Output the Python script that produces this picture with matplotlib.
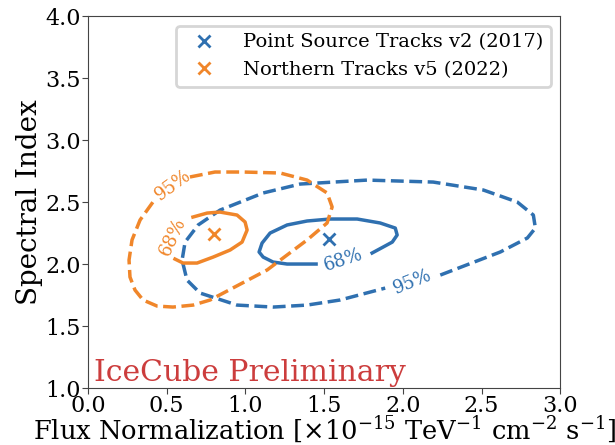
#!/usr/bin/env python3
# contours.py
# best-fit point and 68%/95% contours for the two track samples

import matplotlib
matplotlib.use("Agg")
import matplotlib.pyplot as plt

plt.rcParams['font.family'] = ['DejaVu Serif']
plt.rcParams['mathtext.fontset'] = 'dejavuserif'

# best-fit points (flux norm, spectral index)
ps_best = (1.53, 2.20)
nt_best = (0.80, 2.24)

# Point Source Tracks v2 (2017) contours, traced around, open at the label
ps68_x = [1.805, 1.875, 1.933, 1.964, 1.952, 1.856, 1.710, 1.538, 1.392, 1.265,
          1.157, 1.106, 1.087, 1.113, 1.176, 1.265, 1.348, 1.449]
ps68_y = [2.089, 2.137, 2.177, 2.234, 2.290, 2.331, 2.363, 2.363, 2.347, 2.315,
          2.250, 2.169, 2.097, 2.056, 2.016, 2.000, 2.000, 2.000]
ps95_x = [2.238, 2.619, 2.791, 2.842, 2.829, 2.727, 2.511, 2.193, 1.774, 1.348,
          1.113, 0.839, 0.700, 0.617, 0.598, 0.629, 0.712, 0.947, 1.176, 1.392,
          1.602, 1.888]
ps95_y = [1.911, 2.097, 2.210, 2.290, 2.395, 2.500, 2.597, 2.661, 2.677, 2.645,
          2.573, 2.435, 2.315, 2.177, 2.032, 1.871, 1.766, 1.669, 1.653, 1.669,
          1.710, 1.806]

# Northern Tracks v5 (2022) contours
nt68_x = [0.667, 0.757, 0.839, 0.947, 0.998, 1.011, 0.979, 0.903, 0.795, 0.693,
          0.604, 0.553]
nt68_y = [2.379, 2.411, 2.419, 2.395, 2.339, 2.274, 2.177, 2.113, 2.056, 2.008,
          2.008, 2.040]
nt95_x = [0.648, 0.807, 0.985, 1.221, 1.392, 1.519, 1.551, 1.519, 1.392, 1.138,
          0.776, 0.668, 0.540, 0.439, 0.350, 0.299, 0.267, 0.261, 0.280, 0.331,
          0.413]
nt95_y = [2.702, 2.742, 2.742, 2.734, 2.677, 2.573, 2.460, 2.331, 2.194, 1.952,
          1.710, 1.669, 1.653, 1.661, 1.710, 1.790, 1.895, 2.032, 2.194, 2.355,
          2.500]

blue = '#2f70b0'
orange = '#f0862a'

fig = plt.figure(figsize=(6.15, 4.45), dpi=100)
ax = fig.add_axes([0.143, 0.128, 0.768, 0.836])

ax.plot(ps68_x, ps68_y, color=blue, lw=2.5)
ax.plot(ps95_x, ps95_y, color=blue, lw=2.5, ls='--')
ax.plot(nt68_x, nt68_y, color=orange, lw=2.5)
ax.plot(nt95_x, nt95_y, color=orange, lw=2.5, ls='--')

ax.plot(*ps_best, marker='x', ls='none', color=blue, ms=9, mew=2,
        label='Point Source Tracks v2 (2017)')
ax.plot(*nt_best, marker='x', ls='none', color=orange, ms=9, mew=2,
        label='Northern Tracks v5 (2022)')

# contour level labels
ax.text(1.62, 2.03, '68%', color=blue, fontsize=13, rotation=18,
        ha='center', va='center')
ax.text(2.06, 1.855, '95%', color=blue, fontsize=13, rotation=22,
        ha='center', va='center')
ax.text(0.54, 2.218, '68%', color=orange, fontsize=13, rotation=65,
        ha='center', va='center')
ax.text(0.54, 2.637, '95%', color=orange, fontsize=13, rotation=36,
        ha='center', va='center')

ax.text(0.04, 1.01, 'IceCube Preliminary', color='#cc3d3d', fontsize=21.5,
        ha='left', va='bottom')

ax.set_xlim(0, 3)
ax.set_ylim(1, 4)
ax.set_xticks([0, 0.5, 1.0, 1.5, 2.0, 2.5, 3.0])
ax.set_yticks([1.0, 1.5, 2.0, 2.5, 3.0, 3.5, 4.0])
ax.tick_params(labelsize=16, length=4, pad=1, color='#444444')
for s in ax.spines.values():
    s.set_color('#444444')

ax.set_xlabel(r'Flux Normalization [$\times10^{-15}$ TeV$^{-1}$ cm$^{-2}$ s$^{-1}$]',
              fontsize=18.5, labelpad=-1.5)
ax.set_ylabel('Spectral Index', fontsize=20, labelpad=2)

leg = ax.legend(loc='upper right', fontsize=14, numpoints=1,
                handletextpad=1.0, borderpad=0.4)
leg.get_frame().set_linewidth(2)
leg.get_frame().set_edgecolor('#cccccc')

fig.savefig('out.png', dpi=100)
